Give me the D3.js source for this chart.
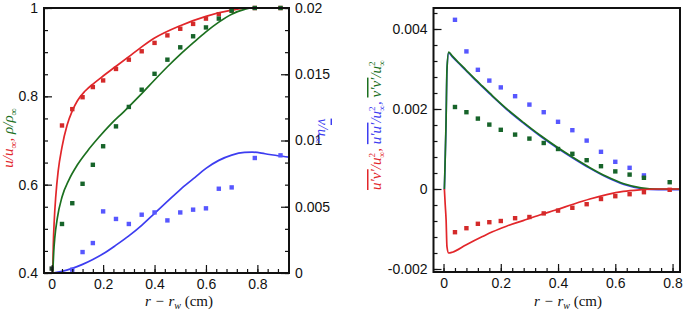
<!DOCTYPE html>
<html>
<head>
<meta charset="utf-8">
<script src="https://cdn.jsdelivr.net/npm/d3@7"></script>
<style>
  body { margin: 0; background: #fff; }
  svg { display: block; }
  .tick text { font-family: "Liberation Sans", Arial, sans-serif; font-size: 14px; fill: #111; }
  .tick line { stroke: #111; stroke-width: 1.2; }
</style>
</head>
<body>
<svg width="684" height="311"></svg>
<script>
// ---------- left panel data ----------
var stationX = [0.04, 0.08, 0.12, 0.16, 0.2, 0.25, 0.3, 0.35, 0.4, 0.45, 0.5, 0.55, 0.6, 0.65, 0.7, 0.79, 0.89];
var uExp   = [0.734, 0.771, 0.798, 0.821, 0.836, 0.862, 0.883, 0.902, 0.921, 0.938, 0.953, 0.964, 0.976, 0.986, 0.994, 1.0, 1.0];
var rhoExp = [0.511, 0.558, 0.602, 0.645, 0.687, 0.732, 0.776, 0.815, 0.851, 0.883, 0.911, 0.936, 0.956, 0.976, 0.994, 1.0, 1.0];
var vStationX = [0.08, 0.12, 0.16, 0.2, 0.25, 0.3, 0.35, 0.4, 0.45, 0.5, 0.55, 0.6, 0.65, 0.7, 0.79, 0.89];
var vExp   = [0.00025, 0.00158, 0.00226, 0.00465, 0.00408, 0.0037, 0.0044, 0.00457, 0.00397, 0.00457, 0.00478, 0.00488, 0.00636, 0.00646, 0.00868, 0.00888];

var uSimX = [0.004, 0.006, 0.01, 0.016, 0.025, 0.04, 0.06, 0.08, 0.1, 0.13, 0.165, 0.2, 0.25, 0.3, 0.35, 0.4, 0.5, 0.6, 0.7, 0.77, 0.923];
var uSim  = [0.4, 0.46, 0.52, 0.575, 0.63, 0.685, 0.735, 0.767, 0.79, 0.812, 0.83, 0.846, 0.868, 0.89, 0.912, 0.932, 0.96, 0.981, 0.995, 1.0, 1.0];
var rhoSimX = [0.004, 0.008, 0.012, 0.022, 0.04, 0.067, 0.1, 0.14, 0.18, 0.23, 0.28, 0.35, 0.4, 0.45, 0.5, 0.55, 0.6, 0.65, 0.7, 0.75, 0.78, 0.923];
var rhoSim  = [0.4, 0.45, 0.48, 0.525, 0.572, 0.611, 0.645, 0.677, 0.705, 0.737, 0.765, 0.806, 0.837, 0.867, 0.895, 0.921, 0.946, 0.968, 0.986, 0.997, 1.0, 1.0];
var vSimX = [0.004, 0.04, 0.08, 0.12, 0.16, 0.2, 0.25, 0.3, 0.35, 0.4, 0.45, 0.5, 0.55, 0.6, 0.65, 0.7, 0.75, 0.78, 0.83, 0.88, 0.923];
var vSim  = [0, 0.00012, 0.00035, 0.00065, 0.00102, 0.00145, 0.0021, 0.0028, 0.0036, 0.0045, 0.0054, 0.0063, 0.0071, 0.0079, 0.0085, 0.0089, 0.0091, 0.00912, 0.009, 0.00885, 0.00875];

// ---------- right panel data ----------
var stressX = [0.04, 0.08, 0.12, 0.16, 0.2, 0.25, 0.3, 0.35, 0.4, 0.45, 0.5, 0.55, 0.6, 0.65, 0.7, 0.79];
var uuExp = [0.00423, 0.00344, 0.00298, 0.00271, 0.00254, 0.00232, 0.00211, 0.00192, 0.00168, 0.00147, 0.00121, 0.00093, 0.00068, 0.00053, 0.00034];
var vvExp = [0.00205, 0.00192, 0.00176, 0.00161, 0.00148, 0.00136, 0.00126, 0.00115, 0.001, 0.00088, 0.00072, 0.00057, 0.00044, 0.00036, 0.00028, 0.00017];
var uvExp = [-0.00108, -0.00098, -0.00087, -0.00083, -0.0008, -0.00073, -0.0007, -0.00061, -0.00054, -0.00047, -0.00038, -0.00025, -0.00018, -0.00013, -0.00008, -0.00002];

var kSimX = [0.003, 0.006, 0.009, 0.012, 0.018, 0.031, 0.05, 0.078, 0.1, 0.136, 0.171, 0.22, 0.28, 0.34, 0.4, 0.45, 0.51, 0.57, 0.63, 0.69, 0.75, 0.826];
var kSim  = [0, 0.0008, 0.00173, 0.00298, 0.00342, 0.00332, 0.00318, 0.00298, 0.00282, 0.00257, 0.00233, 0.00201, 0.00166, 0.00133, 0.00103, 0.0008, 0.00054, 0.00031, 0.00013, 0.00003, 0, 0];
var uvSimX = [0.003, 0.006, 0.009, 0.012, 0.018, 0.031, 0.078, 0.136, 0.171, 0.22, 0.278, 0.336, 0.395, 0.453, 0.511, 0.57, 0.628, 0.686, 0.74, 0.826];
var uvSim  = [0, -0.0004, -0.00077, -0.00144, -0.0016, -0.00158, -0.0014, -0.00119, -0.00107, -0.00093, -0.00079, -0.00065, -0.00052, -0.00038, -0.00025, -0.00014, -0.00006, -0.00002, 0, 0];

// tick values
var xTicksL = [0, 0.2, 0.4, 0.6, 0.8];
var yTicksL = [0.4, 0.6, 0.8, 1];
var yTicksR = [0, 0.005, 0.01, 0.015, 0.02];
var yTicksS = [-0.002, 0, 0.002, 0.004];

var red = "#e2262a", green = "#1c701f", blue = "#3d3df0";
var redPt = "#d42a2a", greenPt = "#17642a", bluePt = "#5757ff";

var svg = d3.select("svg");

// scales
var xL = d3.scaleLinear().domain([-0.03, 0.923]).range([44, 289]);
var yL = d3.scaleLinear().domain([0.4, 1]).range([273, 8]);
var yR = d3.scaleLinear().domain([0, 0.02]).range([273, 8]);
var xS = d3.scaleLinear().domain([-0.035, 0.826]).range([433.5, 680]);
var yS = d3.scaleLinear().domain([-0.002075, 0.004525]).range([272, 8]);

var fmt = function(d) { return String(d); };

// draw an axis: labelled majors plus unlabelled minors, ticks pointing inward
function drawAxis(axisFn, scale, tx, ty, majors, minors, size) {
    var g = svg.append("g").attr("transform", "translate(" + tx + "," + ty + ")");
    g.call(axisFn(scale).tickValues(minors).tickSize(size / 2).tickFormat(""));
    g.select(".domain").remove();
    var g2 = svg.append("g").attr("transform", "translate(" + tx + "," + ty + ")");
    g2.call(axisFn(scale).tickValues(majors).tickSize(size).tickPadding(6).tickFormat(fmt));
    g2.select(".domain").remove();
    return g2;
}

function clip(x, y, clipId) {
    svg.append("clipPath").attr("id", clipId).append("rect")
        .attr("x", x.range()[0]).attr("y", y.range()[1])
        .attr("width", x.range()[1] - x.range()[0])
        .attr("height", y.range()[0] - y.range()[1]);
}

function drawLine(xs, ys, x, y, color, clipId, w, shift) {
    var line = d3.line()
        .x(function(d) { return x(d[0]); })
        .y(function(d) { return y(d[1]); })
        .curve(d3.curveMonotoneX);
    svg.append("path")
        .datum(d3.zip(xs, ys))
        .attr("clip-path", "url(#" + clipId + ")")
        .attr("transform", shift ? "translate(0," + shift + ")" : null)
        .attr("fill", "none")
        .attr("stroke", color)
        .attr("stroke-width", w || 1.7)
        .attr("d", line);
}

function drawPoints(xs, ys, x, y, color) {
    svg.append("g").selectAll("rect")
        .data(d3.zip(xs, ys))
        .enter().append("rect")
        .attr("x", function(d) { return x(d[0]) - 2.2; })
        .attr("y", function(d) { return y(d[1]) - 2.2; })
        .attr("width", 4.4)
        .attr("height", 4.4)
        .attr("fill", color);
}

clip(xL, yL, "clipL");
clip(xS, yS, "clipS");

//////////// LEFT PANEL ////////////
drawLine(uSimX, uSim, xL, yL, red, "clipL");
drawLine(rhoSimX, rhoSim, xL, yL, green, "clipL");
drawLine(vSimX, vSim, xL, yR, blue, "clipL");
drawPoints(stationX, uExp, xL, yL, redPt);
drawPoints(stationX, rhoExp, xL, yL, greenPt);
drawPoints(vStationX, vExp, xL, yR, bluePt);
drawPoints([0], [0.41], xL, yL, "#23402a");

drawAxis(d3.axisBottom, xL, 0, 273, xTicksL, d3.range(-0.0, 0.92, 0.04), -8);
drawAxis(d3.axisLeft, yL, 44, 0, yTicksL, d3.range(0.4, 1.001, 0.05), -8);
drawAxis(d3.axisRight, yR, 289, 0, yTicksR, d3.range(0, 0.0201, 0.005 / 3), -8);

svg.append("rect").attr("x", 44).attr("y", 8).attr("width", 245).attr("height", 265)
    .attr("fill", "none").attr("stroke", "#111").attr("stroke-width", 2);

//////////// RIGHT PANEL ////////////
// u'u' model sits under v'v' model, only its lower edge peeks out
drawLine(kSimX, kSim, xS, yS, blue, "clipS", 1.6, 0.7);
drawLine(kSimX, kSim, xS, yS, green, "clipS", 1.7);
drawLine(uvSimX, uvSim, xS, yS, red, "clipS");
drawPoints(stressX.slice(0, uuExp.length), uuExp, xS, yS, bluePt);
drawPoints(stressX, vvExp, xS, yS, greenPt);
drawPoints(stressX, uvExp, xS, yS, redPt);

drawAxis(d3.axisBottom, xS, 0, 272, xTicksL, d3.range(0, 0.81, 0.04), -8);
drawAxis(d3.axisLeft, yS, 433.5, 0, yTicksS, d3.range(-0.002, 0.0045, 0.0004), -8);

svg.append("rect").attr("x", 433.5).attr("y", 8).attr("width", 246.5).attr("height", 264)
    .attr("fill", "none").attr("stroke", "#111").attr("stroke-width", 2);

//////////// LABELS ////////////
function richText(tx, ty, rot, parts, size) {
    var t = svg.append("text")
        .attr("transform", "translate(" + tx + "," + ty + ") rotate(" + rot + ")")
        .attr("text-anchor", "middle")
        .attr("font-family", "'Liberation Serif', 'Times New Roman', serif")
        .attr("font-style", "italic")
        .attr("font-size", size);
    parts.forEach(function(p) {
        var s = t.append("tspan").text(p.t).attr("fill", p.c || "#111");
        if (p.dx) s.attr("dx", p.dx);
        if (p.dy) s.attr("dy", p.dy);
        if (p.fs) s.attr("font-size", p.fs);
        if (p.ol) s.style("text-decoration", "overline");
        if (p.n) s.attr("font-style", "normal");
    });
    return t;
}

// x titles
richText(179, 306, 0, [{t: "r \u2212 r"}, {t: "w", fs: 10, dy: 3}, {t: " (cm)", n: true, dy: -3}], 15);
richText(568, 306, 0, [{t: "r \u2212 r"}, {t: "w", fs: 10, dy: 3}, {t: " (cm)", n: true, dy: -3}], 15);

// left y title
richText(12.5, 138, -90, [
    {t: "u/u", c: red}, {t: "\u221e", c: red, fs: 10, dy: 4}, {t: ", ", c: red, dy: -4},
    {t: "\u03c1/\u03c1", c: green}, {t: "\u221e", c: green, fs: 10, dy: 4}
], 15);

// right axis title of left panel
richText(318, 131, 90, [
    {t: "v", c: blue, ol: true}, {t: "/u", c: blue}, {t: "\u221e", c: blue, fs: 10, dy: 3}
], 14.5);

// right panel y title
function stressParts(a, c, last) {
    return [
        {t: a, c: c, ol: true}, {t: "/u", c: c},
        {t: "2", c: c, fs: 9, dy: -6, n: true}, {t: "\u221e", c: c, fs: 9, dx: -5, dy: 10},
        {t: last ? "" : ", ", c: c, dy: -4}
    ];
}
richText(381, 125, -90,
    stressParts("u\u2032v\u2032", red).concat(stressParts("u\u2032u\u2032", blue), stressParts("v\u2032v\u2032", green, true)),
    15);
</script>
</body>
</html>
